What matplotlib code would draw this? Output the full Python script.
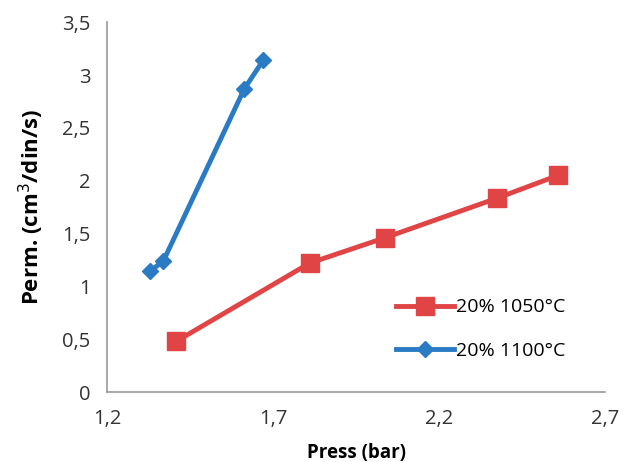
import matplotlib
matplotlib.use("Agg")
import matplotlib.pyplot as plt

plt.rcParams['font.family'] = ['Open Sans', 'DejaVu Sans']

# data
press_1050 = [1.408, 1.81, 2.037, 2.375, 2.558]
perm_1050 = [0.48, 1.22, 1.46, 1.835, 2.05]
press_1100 = [1.33, 1.369, 1.613, 1.67]
perm_1100 = [1.145, 1.24, 2.87, 3.14]
x_ticks = [1.2, 1.7, 2.2, 2.7]
y_ticks = [0, 0.5, 1, 1.5, 2, 2.5, 3, 3.5]

fig = plt.figure(figsize=(6.31, 4.62), dpi=100)
ax = fig.add_axes([0.17, 0.1515, 0.789, 0.8005])

ax.plot(press_1050, perm_1050, color='#e04444', lw=3.5, marker='s', ms=13,
        label='20% 1050°C')
ax.plot(press_1100, perm_1100, color='#2a7bc4', lw=3.5, marker='D', ms=8,
        label='20% 1100°C')

ax.set_xlim(1.2, 2.7)
ax.set_ylim(0, 3.5)
ax.set_xticks(x_ticks)
ax.set_yticks(y_ticks)
ax.set_xticklabels([str(v).replace('.', ',') for v in x_ticks])
ax.set_yticklabels([('%g' % v).replace('.', ',') for v in y_ticks])
ax.tick_params(length=0, labelsize=14.5, colors='#333333', pad=12)

for s in ['top', 'right']:
    ax.spines[s].set_visible(False)
for s in ['left', 'bottom']:
    ax.spines[s].set_color('#999999')
    ax.spines[s].set_linewidth(1.2)

ax.set_xlabel('Press (bar)', fontsize=13.5, fontweight='bold', labelpad=10)
ax.set_ylabel('Perm. (cm$^3$/din/s)', fontsize=16, fontweight='bold', labelpad=12)

ax.legend(loc='lower right', bbox_to_anchor=(0.955, 0.04), frameon=False,
          fontsize=14, labelspacing=1.3, handlelength=3.0, handletextpad=0.1)

fig.savefig('out.png', dpi=100)
